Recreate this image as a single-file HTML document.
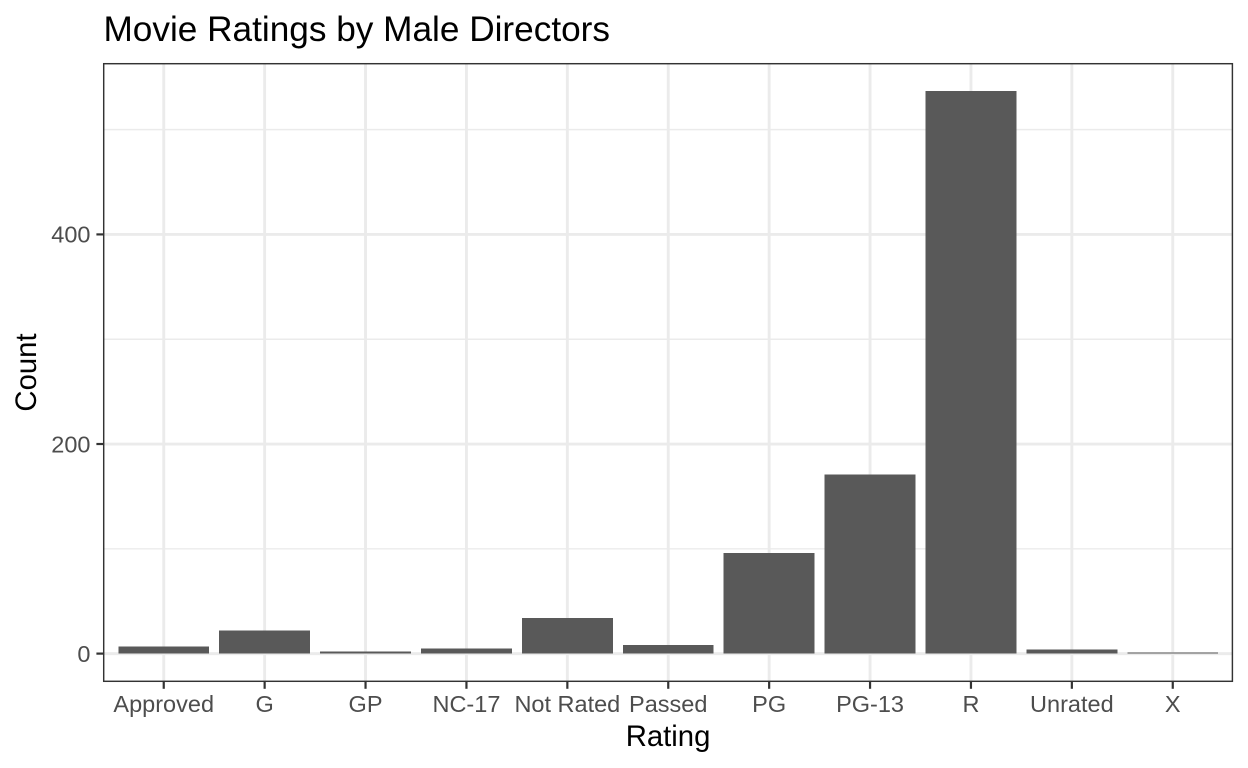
<!DOCTYPE html>
<html>
<head>
<meta charset="utf-8">
<title>Movie Ratings by Male Directors</title>
<style>
html,body{margin:0;padding:0;background:#fff;}
svg{display:block;font-family:"Liberation Sans",sans-serif;}
</style>
</head>
<body>
<svg id="chart" width="1248" height="768" viewBox="0 0 1248 768" xmlns="http://www.w3.org/2000/svg"></svg>
<script>
const categories = ["Approved","G","GP","NC-17","Not Rated","Passed","PG","PG-13","R","Unrated","X"];
const counts = [7,22,2,5,34,8,96,171,537,4,1];
const yMajorTicks = [0,200,400];
const yMinorTicks = [100,300,500];

const svg = document.getElementById('chart');
const NS = 'http://www.w3.org/2000/svg';
const panel = {left:103.7, right:1232.4, top:63.7, bottom:681.3};
const xRange = {left:103.2, right:1233.3};
const yRange = {top:92.0, bottom:681.7};
const expandX = 0.6;
const yMin = -26.8, yMax = 536.0;
const slot = (xRange.right - xRange.left) / (categories.length - 1 + 2 * expandX);
function xScale(i){ return xRange.left + (i + expandX) * slot; }
function yScale(v){ return yRange.bottom - (v - yMin) * 1.048; }

function add(tag, attrs, text, parent){
  const el = document.createElementNS(NS, tag);
  for (const k in attrs) el.setAttribute(k, attrs[k]);
  if (text !== undefined) el.textContent = text;
  (parent || svg).appendChild(el);
  return el;
}

yMinorTicks.forEach(function(v){
  const el = add('line',{x1:panel.left,x2:panel.right,y1:yScale(v),y2:yScale(v),stroke:'#EBEBEB','stroke-width':1.45});
  
  
});
yMajorTicks.forEach(function(v){
  const el = add('line',{x1:panel.left,x2:panel.right,y1:yScale(v),y2:yScale(v),stroke:'#EBEBEB','stroke-width':2.9});
  
  
});
categories.forEach(function(c,i){
  const el = add('line',{x1:xScale(i),x2:xScale(i),y1:panel.top,y2:panel.bottom,stroke:'#EBEBEB','stroke-width':2.9});
  
  
});

counts.forEach(function(v,i){
  const w = slot * 0.9;
  const el = add('rect',{x:xScale(i)-w/2,y:yScale(v),width:w,height:yScale(0)-yScale(v),fill:'#595959','shape-rendering':'crispEdges'});
  
  
});

const border = add('rect',{x:panel.left,y:panel.top,width:panel.right-panel.left,height:panel.bottom-panel.top,fill:'none',stroke:'#333333','stroke-width':1.45});



yMajorTicks.forEach(function(v){
  const t = add('line',{x1:panel.left-7.3,x2:panel.left,y1:yScale(v),y2:yScale(v),stroke:'#333333','stroke-width':2.2});
  
  
  const l = add('text',{x:panel.left-13.2,y:yScale(v)+8.3,'text-anchor':'end','font-size':23.5,fill:'#4D4D4D'},String(v));
  
  
});
categories.forEach(function(c,i){
  const t = add('line',{x1:xScale(i),x2:xScale(i),y1:panel.bottom,y2:panel.bottom+7.5,stroke:'#333333','stroke-width':2.2});
  
  
  const l = add('text',{x:xScale(i),y:712,'text-anchor':'middle','font-size':23.5,fill:'#4D4D4D'},c);
  
  
});

const xTitle = add('text',{x:(panel.left+panel.right)/2,y:746,'text-anchor':'middle','font-size':29.3,fill:'#000'},'Rating');


const yTitle = add('text',{x:0,y:0,transform:'translate(36,372.5) rotate(-90)','text-anchor':'middle','font-size':29.3,fill:'#000'},'Count');


const title = add('text',{x:103.5,y:41,'font-size':35.2,fill:'#000'},'Movie Ratings by Male Directors');


</script>
</body>
</html>
